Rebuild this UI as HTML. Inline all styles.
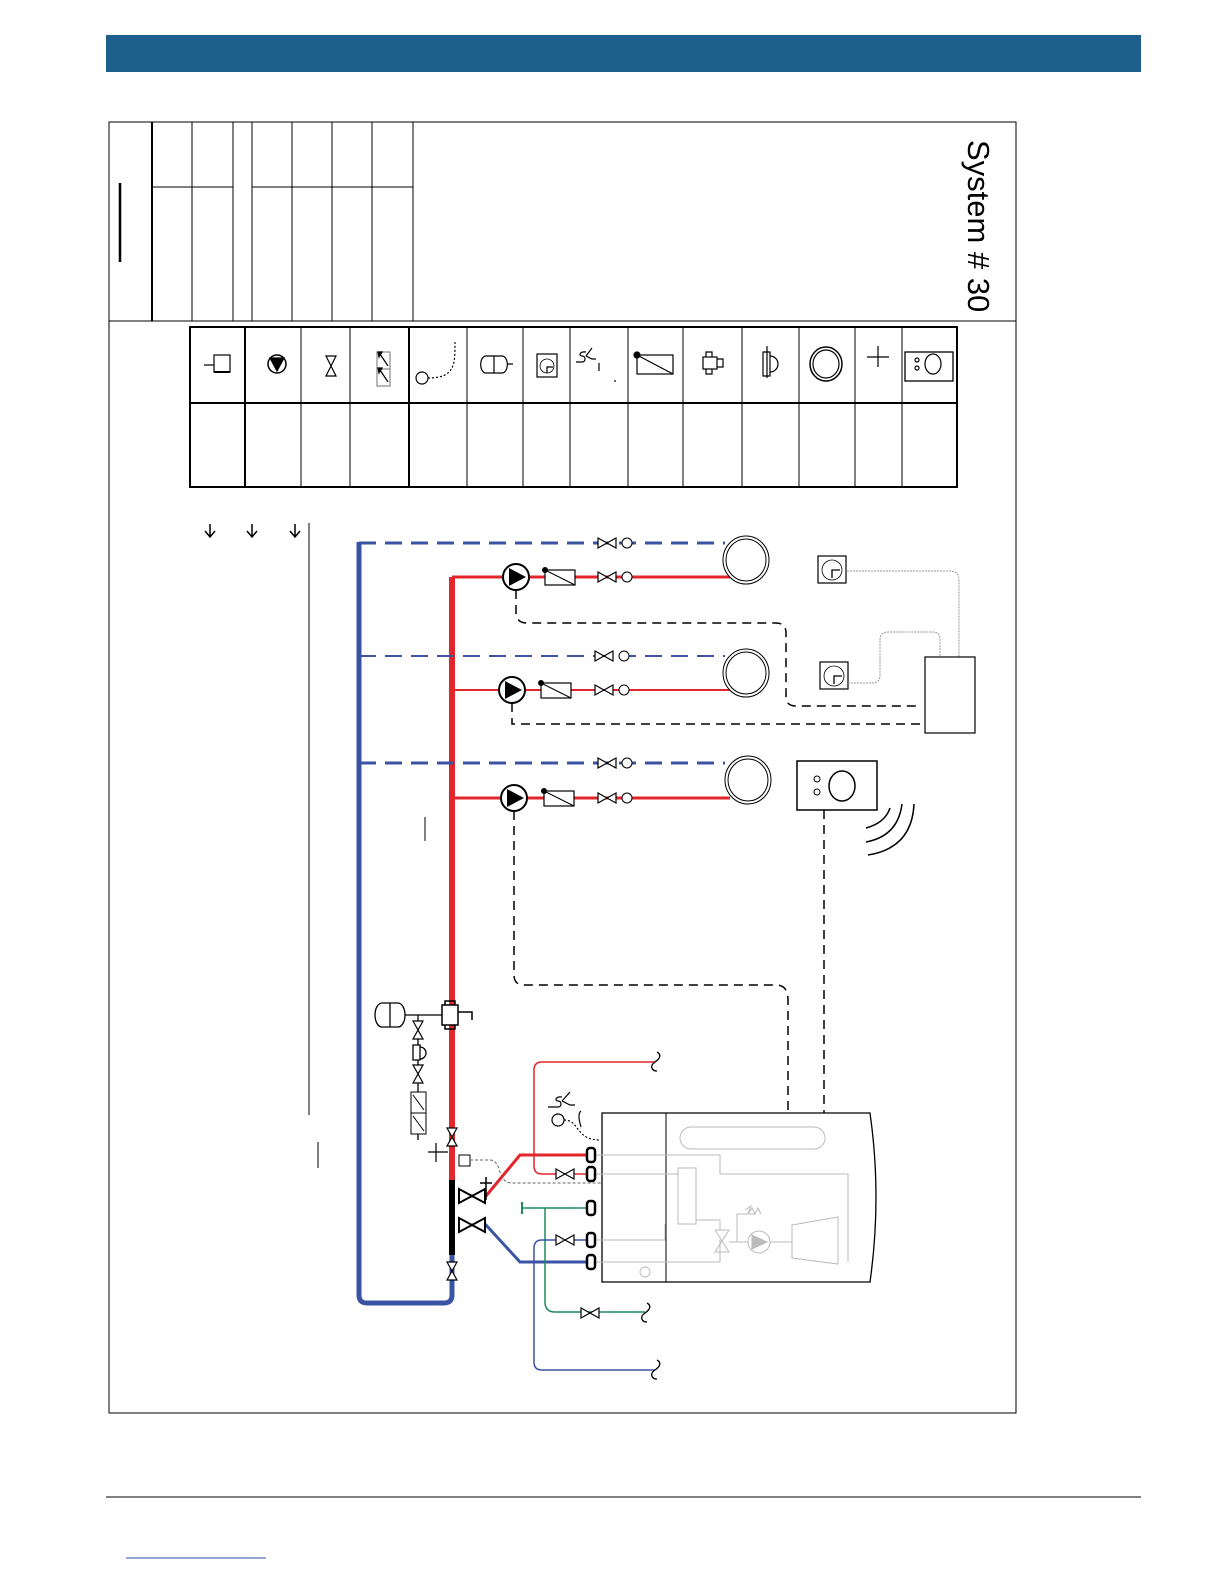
<!DOCTYPE html>
<html><head><meta charset="utf-8"><style>
html,body{margin:0;padding:0;background:#fff;overflow:hidden;width:1224px;height:1584px;}
svg{display:block;}
</style></head><body>
<svg width="1224" height="1584" viewBox="0 0 1224 1584" xmlns="http://www.w3.org/2000/svg" font-family="Liberation Sans, sans-serif">
<defs>
<g id="valve"><path d="M-9,-5 L9,5 L9,-5 L-9,5 Z" fill="#fff" stroke="#000" stroke-width="1.2"/></g>
<g id="bvalve"><path d="M-13,-7 L13,7 L13,-7 L-13,7 Z" fill="#fff" stroke="#000" stroke-width="2"/></g>
<g id="vvalve"><path d="M-5,-9 L5,9 L-5,9 L5,-9 Z" fill="#fff" stroke="#000" stroke-width="1.2"/></g>
<g id="pump"><circle r="13" fill="#fff" stroke="#000" stroke-width="2"/><path d="M-7,-9 L10,0 L-7,9 Z" fill="#000"/></g>
<g id="mix"><rect x="0" y="-7" width="30" height="15" fill="#fff" stroke="#000" stroke-width="1.2"/><line x1="0" y1="-7" x2="30" y2="8" stroke="#000"/><circle cx="0" cy="-7" r="3"/></g>
<g id="rad"><ellipse rx="23" ry="24" fill="#fff" stroke="#000" stroke-width="1"/><ellipse rx="20" ry="21" fill="none" stroke="#000" stroke-width="1"/></g>
<g id="conn"><rect x="-4" y="-7" width="8" height="14" rx="3" fill="#fff" stroke="#000" stroke-width="2.5"/></g>
<g id="sq"><rect x="0" y="0" width="28" height="27" fill="#fff" stroke="#000" stroke-width="1.2"/><circle cx="14" cy="14" r="10" fill="none" stroke="#000" stroke-width="0.8"/><path d="M14,22 V14 H22" fill="none" stroke="#000" stroke-width="1.3"/></g>
</defs>
<rect x="106" y="35" width="1035" height="37" fill="#1f5f8b"/>
<line x1="106" y1="1497" x2="1141" y2="1497" stroke="#000" stroke-width="1"/>
<line x1="126" y1="1558" x2="266" y2="1558" stroke="#2b4fa0" stroke-width="1"/>
<rect x="109" y="122" width="907" height="1291" fill="none" stroke="#000" stroke-width="1"/>
<line x1="109" y1="321" x2="1016" y2="321" stroke="#000" stroke-width="1"/>
<g stroke="#000" stroke-width="1">
<line x1="152" y1="122" x2="152" y2="321" stroke-width="2"/>
<line x1="192" y1="122" x2="192" y2="321"/>
<line x1="233" y1="122" x2="233" y2="321"/>
<line x1="252" y1="122" x2="252" y2="321"/>
<line x1="292" y1="122" x2="292" y2="321"/>
<line x1="332" y1="122" x2="332" y2="321"/>
<line x1="372" y1="122" x2="372" y2="321"/>
<line x1="413" y1="122" x2="413" y2="321"/>
<line x1="152" y1="187" x2="233" y2="187"/>
<line x1="252" y1="187" x2="413" y2="187"/>
</g>
<line x1="120" y1="183" x2="120" y2="262" stroke="#000" stroke-width="2.5"/>
<text x="968" y="140" font-size="31" transform="rotate(90 968 140)">System # 30</text>
<rect x="190" y="327" width="767" height="160" fill="none" stroke="#000" stroke-width="2"/>
<line x1="190" y1="403" x2="957" y2="403" stroke="#000" stroke-width="2"/>
<g stroke="#000" stroke-width="1">
<line x1="245" y1="327" x2="245" y2="487" stroke-width="2"/><line x1="301" y1="327" x2="301" y2="487"/><line x1="350" y1="327" x2="350" y2="487"/><line x1="409" y1="327" x2="409" y2="487" stroke-width="2"/><line x1="467" y1="327" x2="467" y2="487"/><line x1="523" y1="327" x2="523" y2="487"/><line x1="570" y1="327" x2="570" y2="487"/><line x1="628" y1="327" x2="628" y2="487"/><line x1="683" y1="327" x2="683" y2="487"/><line x1="742" y1="327" x2="742" y2="487"/><line x1="799" y1="327" x2="799" y2="487"/><line x1="855" y1="327" x2="855" y2="487"/><line x1="902" y1="327" x2="902" y2="487"/>
</g>
<g stroke="#000" fill="none" stroke-width="1.2">
<rect x="214" y="355" width="16" height="17"/><line x1="204" y1="365" x2="214" y2="365"/><line x1="214" y1="372" x2="230" y2="372" stroke-width="2"/>
<circle cx="277" cy="364" r="9" stroke-width="1.5"/><path d="M270,358 H284 L277,371 Z" fill="#000"/>
<path d="M326,356 H336 L326,376 H336 Z"/>
<rect x="377" y="352" width="13" height="34" stroke="#888"/><line x1="377" y1="369" x2="390" y2="369" stroke="#888"/>
<path d="M380,354 L388,366 M380,370 L388,382"/><path d="M378,352 l4,0 l-3,5z M378,368 l4,0 l-3,5z" fill="#000"/>
<circle cx="422" cy="378" r="6"/><path d="M428,378 C455,378 455,365 455,342" stroke-dasharray="2,2"/>
<path d="M486,356 H502 A5,8 0 0 1 502,373 H486 A5,8 0 0 1 486,356 Z M494,356 V373 M507,364 H513"/>
<rect x="537" y="354" width="20" height="23"/><circle cx="547" cy="366" r="7" stroke-width="0.8"/><path d="M547,373 V367 H553"/>
<path d="M576,362 h6 c4,0 4,-6 0,-6 c-4,0 -2,-5 4,-4 M586,356 l6,-8 M586,356 l6,3 h4 M599,363 v8 M615,380 v2"/>
<rect x="637" y="355" width="36" height="19"/><line x1="637" y1="355" x2="673" y2="374"/><circle cx="637" cy="355" r="3" fill="#000"/>
<rect x="703" y="357" width="14" height="12"/><path d="M706,357 v-5 h6 v5 M706,369 v5 h6 v-5 M717,359 h6 v8 h-6"/>
<path d="M763,352 h7 v24 h-7 z M770,356 a8,8 0 0 1 0,16 M767,346 v32"/>
<ellipse cx="826" cy="364" rx="16" ry="17" stroke-width="1.5"/><ellipse cx="826" cy="364" rx="13" ry="14"/>
<line x1="867" y1="357" x2="889" y2="357"/><line x1="878" y1="346" x2="878" y2="367"/>
<rect x="905" y="352" width="48" height="29" stroke-width="1.3"/><ellipse cx="933" cy="364" rx="8" ry="10"/><circle cx="917" cy="360" r="2"/><circle cx="917" cy="368" r="2"/>
</g>
<g stroke="#000" fill="none" stroke-width="1.5">
<path d="M210,524 V537 M205,531 L210,537 L215,531"/>
<path d="M252,524 V537 M247,531 L252,537 L257,531"/>
<path d="M295,524 V537 M290,531 L295,537 L300,531"/>
</g>
<line x1="309" y1="523" x2="309" y2="1115" stroke="#000" stroke-width="1"/>
<line x1="425" y1="817" x2="425" y2="841" stroke="#000" stroke-width="1"/>
<line x1="318" y1="1142" x2="318" y2="1168" stroke="#000" stroke-width="1"/>
<path d="M359,542 V1295 Q359,1303 367,1303 H444 Q452,1303 452,1295 V1255" fill="none" stroke="#3a53a4" stroke-width="5"/>
<line x1="452" y1="577" x2="452" y2="1180" stroke="#e3262b" stroke-width="6"/>
<line x1="452" y1="1180" x2="452" y2="1255" stroke="#000" stroke-width="6"/>
<g stroke="#3a53a4" fill="none" stroke-dasharray="17,9">
<line x1="359" y1="543" x2="725" y2="543" stroke-width="3"/>
<line x1="359" y1="656" x2="725" y2="656" stroke-width="2"/>
<line x1="359" y1="763" x2="725" y2="763" stroke-width="3"/>
</g>
<g stroke="#e3262b" fill="none">
<line x1="452" y1="577" x2="730" y2="577" stroke-width="3"/>
<line x1="452" y1="690" x2="730" y2="690" stroke-width="2"/>
<line x1="452" y1="798" x2="730" y2="798" stroke-width="3"/>
</g>
<g fill="#fff" stroke="#000" stroke-width="1"><circle cx="627" cy="543" r="5"/><circle cx="624" cy="656" r="5"/><circle cx="627" cy="763" r="5"/><circle cx="627" cy="577" r="5"/><circle cx="624" cy="690" r="5"/><circle cx="627" cy="798" r="5"/></g>
<use href="#valve" x="607" y="543"/><use href="#valve" x="604" y="656"/><use href="#valve" x="607" y="763"/>
<use href="#valve" x="607" y="577"/><use href="#valve" x="604" y="690"/><use href="#valve" x="607" y="798"/>
<use href="#mix" x="545" y="577"/><use href="#mix" x="541" y="690"/><use href="#mix" x="544" y="798"/>
<use href="#rad" x="746" y="560"/><use href="#rad" x="746" y="673"/><use href="#rad" x="748" y="780"/>
<g stroke="#000" fill="none" stroke-width="1.5" stroke-dasharray="9,6">
<path d="M516,590 V612 Q516,623 527,623 H776 Q786,623 786,633 V697 Q786,706 796,706 H920"/>
<path d="M512,703 V724 H920"/>
<path d="M514,811 V975 Q514,985 524,985 H776 Q788,985 788,1000 V1113"/>
<path d="M824,810 V1113"/>
</g>
<use href="#pump" x="516" y="577"/><use href="#pump" x="512" y="690"/><use href="#pump" x="514" y="798"/>
<rect x="925" y="657" width="50" height="76" fill="#fff" stroke="#000" stroke-width="1.2"/>
<use href="#sq" x="818" y="556"/><use href="#sq" x="820" y="662"/>
<g stroke="#999" fill="none" stroke-width="1" stroke-dasharray="2,1">
<path d="M847,571 H950 Q959,571 959,580 V657"/>
<path d="M848,683 H872 Q880,683 880,675 V640 Q880,632 888,632 H933 Q940,632 940,640 V657"/>
</g>
<rect x="797" y="761" width="80" height="49" fill="#fff" stroke="#000" stroke-width="1.5"/>
<ellipse cx="842" cy="786" rx="13" ry="15" fill="none" stroke="#000" stroke-width="1.5"/>
<circle cx="817" cy="779" r="3" fill="none" stroke="#000"/><circle cx="817" cy="792" r="3" fill="none" stroke="#000"/>
<g stroke="#000" fill="none" stroke-width="1.5">
<path d="M866,828 Q885,823 890,808"/><path d="M866,842 Q898,836 902,804"/><path d="M868,855 Q912,848 914,804"/>
</g>
<path d="M602,1113 H870 Q882,1197 870,1282 H602 Z" fill="#fff" stroke="#000" stroke-width="1.3"/>
<line x1="666" y1="1113" x2="666" y2="1282" stroke="#000" stroke-width="1"/>
<g stroke="#bbb" fill="none" stroke-width="1">
<rect x="680" y="1127" width="145" height="22" rx="11"/>
<path d="M594,1155 H720 V1174 H848 V1262"/>
<path d="M594,1174 H678"/>
<rect x="678" y="1168" width="18" height="56"/>
<path d="M594,1240 H665 V1224"/><path d="M594,1262 H720 V1240"/>
<path d="M696,1220 H720 V1230"/>
<path d="M715,1230 L729,1252 L715,1252 L729,1230 Z"/>
<circle cx="759" cy="1242" r="11"/><path d="M752,1235 L767,1242 L752,1249 Z" fill="#bbb"/>
<path d="M729,1242 H748 M770,1242 H792 M737,1242 V1214 H755 M745,1210 l6,-4 l-3,8 l4,-6 l3,6 l3,-6 l3,6"/>
<path d="M792,1225 L838,1217 V1264 L792,1258 Z"/>
<circle cx="645" cy="1272" r="5"/>
</g>
<path d="M590,1155 H520 L486,1196 H460" fill="none" stroke="#e3262b" stroke-width="3"/>
<path d="M590,1262 H520 L486,1225 H460" fill="none" stroke="#3a53a4" stroke-width="3"/>
<path d="M655,1062 H542 Q534,1062 534,1070 V1166 Q534,1174 542,1174 H590" fill="none" stroke="#e3262b" stroke-width="1.5"/>
<path d="M522,1208 H590 M545,1208 V1302 Q545,1312 555,1312 H645" fill="none" stroke="#1e8a5a" stroke-width="1.5"/>
<line x1="522" y1="1202" x2="522" y2="1214" stroke="#1e8a5a" stroke-width="2"/>
<path d="M590,1240 H542 Q534,1240 534,1248 V1362 Q534,1370 542,1370 H655" fill="none" stroke="#3a53a4" stroke-width="1.5"/>
<g stroke="#000" fill="none" stroke-width="1.3">
<path d="M655,1062 c6,-4 6,-8 2,-10 M655,1062 c-6,4 -3,9 2,9"/>
<path d="M645,1313 c6,-4 6,-8 2,-10 M645,1313 c-6,4 -3,9 2,9"/>
<path d="M655,1370 c6,-4 6,-8 2,-10 M655,1370 c-6,4 -3,9 2,9"/>
</g>
<use href="#valve" x="565" y="1174"/><use href="#valve" x="565" y="1240"/><use href="#valve" x="590" y="1313"/>
<use href="#conn" x="591" y="1155"/><use href="#conn" x="591" y="1174"/><use href="#conn" x="591" y="1208"/><use href="#conn" x="591" y="1240"/><use href="#conn" x="591" y="1262"/>
<use href="#bvalve" x="472" y="1196"/><use href="#bvalve" x="472" y="1225"/>
<g stroke="#000" stroke-width="1.5"><line x1="480" y1="1183" x2="492" y2="1183"/><line x1="486" y1="1177" x2="486" y2="1200"/></g>
<g stroke="#000" fill="none" stroke-width="1.2">
<circle cx="558" cy="1120" r="6"/>
<path d="M564,1120 C580,1120 575,1140 600,1140" stroke-dasharray="2,2"/>
<path d="M548,1107 h10 c4,0 4,-6 0,-6 c-4,0 -2,-5 4,-4 M562,1101 l8,-9 M562,1101 l8,4 h5 M581,1111 q-4,3 0,16"/>
</g>
<use href="#vvalve" x="452" y="1137"/><use href="#vvalve" x="452" y="1271"/>
<g stroke="#000" stroke-width="1.2"><line x1="428" y1="1152" x2="448" y2="1152"/><line x1="436" y1="1143" x2="436" y2="1162"/></g>
<rect x="459" y="1155" width="11" height="11" fill="#fff" stroke="#000"/>
<path d="M470,1160 H490 Q497,1160 500,1172 Q503,1183 512,1183 H602" fill="none" stroke="#666" stroke-dasharray="3,2"/>
<rect x="442" y="1005" width="16" height="20" fill="#fff" stroke="#000" stroke-width="1.5"/>
<path d="M445,1005 v-4 h10 v4 M445,1025 v4 h10 v-4 M458,1012 h14 v8" fill="none" stroke="#000" stroke-width="1.5"/>
<path d="M382,1003 H398 A7,12 0 0 1 398,1027 H382 A7,12 0 0 1 382,1003 Z M390,1003 V1027" fill="#fff" stroke="#000" stroke-width="1.3"/>
<path d="M405,1015 H442 M418,1015 V1140" stroke="#000" stroke-width="1.3" fill="none"/>
<use href="#vvalve" x="418" y="1030"/><use href="#vvalve" x="418" y="1074"/>
<path d="M413,1045 h7 v15 h-7 z M420,1047 a6,6 0 0 1 0,12" fill="#fff" stroke="#000" stroke-width="1.3"/>
<rect x="411" y="1092" width="15" height="42" fill="#fff" stroke="#000"/>
<line x1="411" y1="1113" x2="426" y2="1113" stroke="#000"/>
<path d="M413,1095 L424,1110 M413,1116 L424,1131" stroke="#000"/>
</svg>
</body></html>
